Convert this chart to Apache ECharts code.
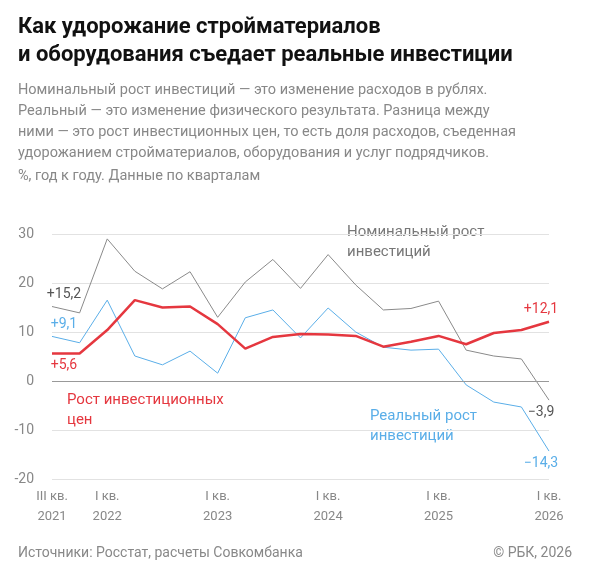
<!DOCTYPE html>
<html><head><meta charset="utf-8">
<script src="https://cdn.jsdelivr.net/npm/echarts@6/dist/echarts.min.js"></script>
<style>body{margin:0}#c{width:590px;height:579px}</style>
</head><body><div id="c"></div>
<script>
// кварталы III кв. 2021 — I кв. 2026
const quarters = ['III кв.\n2021','IV','I кв.\n2022','II','III','IV','I кв.\n2023','II','III','IV','I кв.\n2024','II','III','IV','I кв.\n2025','II','III','IV','I кв.\n2026']
const nominal = [15.2,13.9,29,22.4,18.8,22.3,13,20.2,24.8,18.9,25.8,19.6,14.5,14.8,16.3,6.3,5.1,4.5,-3.9]
const real = [9.1,7.8,16.5,5.1,3.3,6.1,1.6,12.9,14.5,8.8,14.9,10,6.9,6.3,6.5,-0.8,-4.3,-5.3,-14.3]
const prices = [5.6,5.6,10.4,16.5,15,15.2,11.6,6.6,9,9.6,9.5,9.2,7,8,9.2,7.5,9.8,10.4,12.1]
const yTicks = [-20,-10,0,10,20,30]

const chart = echarts.init(document.getElementById('c'))
const F = 'Roboto, sans-serif'
const fmt = v => String(v).replace('.', ',').replace('-', '−')

function mk(name, data, color, labelColor, w, topStart, topEnd) {
    return {
        name: name, type: 'line',
        data: data.map((v, i) => ({
            value: v,
            label: (i === 0 || i === data.length - 1) ? {
                show: true, position: i === 0 ? (topStart ? 'top' : 'bottom') : (topEnd ? 'top' : 'bottom'),
                offset: [i === 0 ? 12 : -8, 0],
                formatter: (v > 0 ? '+' : '') + fmt(v), color: labelColor, fontFamily: F, fontSize: 14
            } : {show: false}
        })),
        showSymbol: true, symbol: 'circle', symbolSize: 0.1,
        lineStyle: {color: color, width: w}, itemStyle: {color: color},
        animation: false
    }
}
chart.setOption({
    grid: {left: 52, right: 41, top: 234, bottom: 100},
    graphic: [
        {type: 'text', left: 18, top: 13, style: {text: 'Как удорожание стройматериалов\nи оборудования съедает реальные инвестиции', font: 'bold 22px ' + F, fill: '#111', lineHeight: 28}},
        {type: 'text', left: 18, top: 80, style: {text: 'Номинальный рост инвестиций — это изменение расходов в рублях.\nРеальный — это изменение физического результата. Разница между\nними — это рост инвестиционных цен, то есть доля расходов, съеденная\nудорожанием стройматериалов, оборудования и услуг подрядчиков.', font: '14.5px ' + F, fill: '#888', lineHeight: 21}},
        {type: 'text', left: 18, top: 169, style: {text: '%, год к году. Данные по кварталам', font: '14.5px ' + F, fill: '#888'}},
        {type: 'text', left: 347, top: 222, style: {text: 'Номинальный рост\nинвестиций', font: '15px ' + F, fill: '#777', lineHeight: 20}},
        {type: 'text', left: 67, top: 390, style: {text: 'Рост инвестиционных\nцен', font: '15px ' + F, fill: '#e5373f', lineHeight: 20}},
        {type: 'text', left: 370, top: 406, style: {text: 'Реальный рост\nинвестиций', font: '15px ' + F, fill: '#5aaee8', lineHeight: 20}},
        {type: 'text', left: 18, top: 546, style: {text: 'Источники: Росстат, расчеты Совкомбанка', font: '14px ' + F, fill: '#888'}},
        {type: 'text', right: 18, top: 546, style: {text: '© РБК, 2026', font: '14px ' + F, fill: '#888', align: 'right'}}
    ],
    xAxis: {
        type: 'category', data: quarters, boundaryGap: false,
        axisLine: {show: false}, axisTick: {show: false},
        axisLabel: {interval: 0, formatter: v => v.includes('\n') ? v : '', color: '#888', fontFamily: F, fontSize: 13, lineHeight: 20, margin: 8}
    },
    yAxis: {
        type: 'value', min: yTicks[0], max: yTicks[yTicks.length - 1], interval: 10,
        axisLabel: {color: '#888', fontFamily: F, fontSize: 14, margin: 18},
        splitLine: {lineStyle: {color: '#e2e2e2'}},
        axisLine: {show: false}
    },
    series: [
        mk('Номинальный', nominal, '#8a8a8a', '#555', 1, true, false),
        mk('Реальный', real, '#5aaee8', '#5aaee8', 1, true, false),
        mk('Цены', prices, '#e5373f', '#e5373f', 2.5, false, true),
        {type: 'line', data: [], markLine: {silent: true, symbol: 'none', label: {show: false}, lineStyle: {color: '#999', type: 'solid', width: 1}, data: [{yAxis: 0}]}}
    ]
})
</script></body></html>
